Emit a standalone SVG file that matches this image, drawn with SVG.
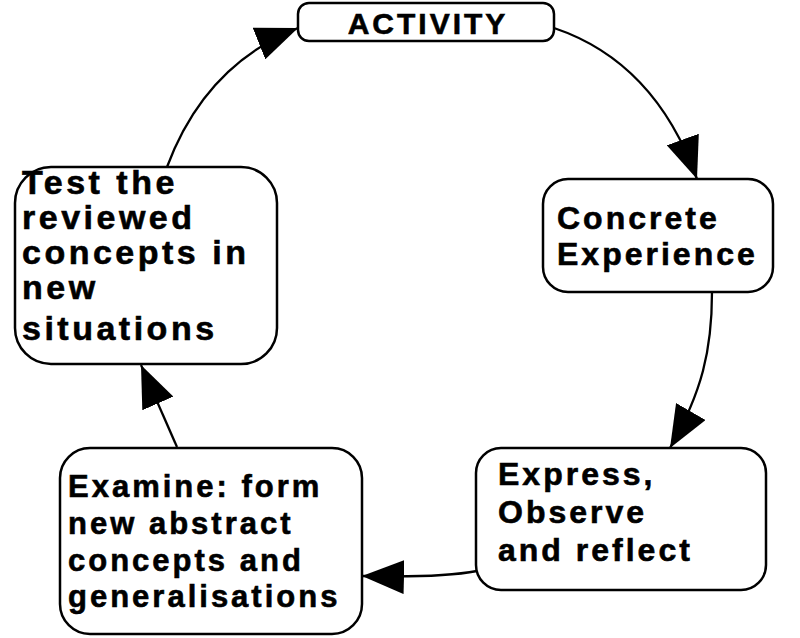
<svg xmlns="http://www.w3.org/2000/svg" width="800" height="638" viewBox="0 0 800 638">
  <style>
    .box { fill: #ffffff; stroke: #000000; stroke-width: 2.5; }
    .lbl { font-family: "Liberation Sans", Arial, sans-serif; font-weight: bold; font-size: 32px; letter-spacing: 3px; fill: #000000; stroke: #000000; stroke-width: 0.6; }
    .sm { font-size: 31px; }
    .lg { font-size: 34px; letter-spacing: 3.5px; }
    .edge { fill: none; stroke: #000000; stroke-width: 2.3; }
  </style>
  <defs>
    <marker id="head" markerUnits="userSpaceOnUse" markerWidth="42" markerHeight="34" refX="42" refY="17" orient="auto">
      <path d="M0,0 L42,17 L0,34 z" fill="#000000"/>
    </marker>
  </defs>
  <rect width="800" height="638" fill="#ffffff"/>

  <!-- connectors of the learning cycle -->
  <g id="connectors">
    <path class="edge" d="M554,28 Q655,62 697,179" marker-end="url(#head)"/>
    <path class="edge" d="M712,292 C712,350 702,392 670,448" marker-end="url(#head)"/>
    <path class="edge" d="M477,571 Q440,578 362,576" marker-end="url(#head)"/>
    <path class="edge" d="M177,447 L141,365" marker-end="url(#head)"/>
    <path class="edge" d="M167,167 Q205,65 298,28" marker-end="url(#head)"/>
  </g>

  <g id="activity">
    <rect class="box" x="298" y="3" width="256" height="38" rx="11"/>
    <text class="lbl" x="428" y="34" text-anchor="middle" style="font-size:30px">ACTIVITY</text>
  </g>

  <g id="concrete-experience">
    <rect class="box" x="543" y="179" width="230" height="113" rx="25"/>
    <text class="lbl" x="557" y="229">Concrete</text>
    <text class="lbl" x="557" y="265">Experience</text>
  </g>

  <g id="express-observe-reflect">
    <rect class="box" x="476" y="448" width="290" height="142" rx="25"/>
    <text class="lbl" x="498" y="485">Express,</text>
    <text class="lbl" x="498" y="523">Observe</text>
    <text class="lbl" x="498" y="561">and reflect</text>
  </g>

  <g id="examine">
    <rect class="box" x="60" y="448" width="302" height="186" rx="30"/>
    <text class="lbl sm" x="68" y="497">Examine: form</text>
    <text class="lbl sm" x="68" y="534">new abstract</text>
    <text class="lbl sm" x="68" y="571">concepts and</text>
    <text class="lbl sm" x="68" y="607">generalisations</text>
  </g>

  <g id="test-concepts">
    <rect class="box" x="15" y="167" width="262" height="197" rx="36"/>
    <text class="lbl lg" x="22" y="194">Test the</text>
    <text class="lbl lg" x="22" y="229">reviewed</text>
    <text class="lbl lg" x="22" y="264">concepts in</text>
    <text class="lbl lg" x="22" y="299">new</text>
    <text class="lbl lg" x="22" y="340">situations</text>
  </g>
</svg>
